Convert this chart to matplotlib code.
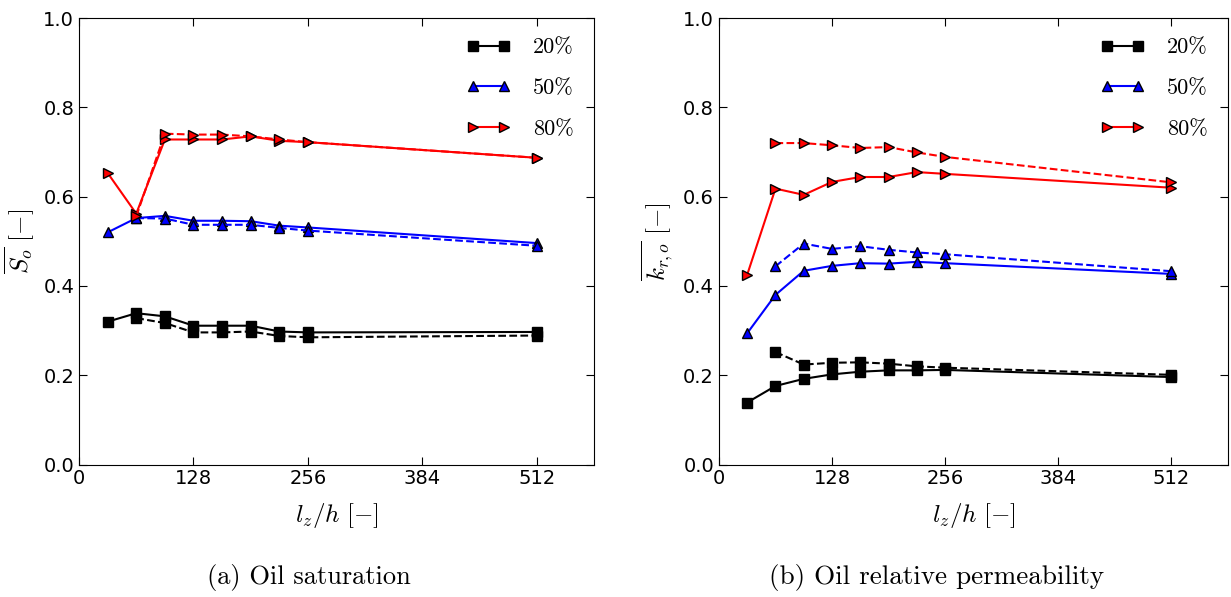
import numpy as np
import matplotlib
matplotlib.use("Agg")
import matplotlib.pyplot as plt

plt.rcParams['mathtext.fontset'] = 'cm'
plt.rcParams['xtick.direction'] = 'in'
plt.rcParams['ytick.direction'] = 'in'
plt.rcParams['xtick.top'] = True
plt.rcParams['ytick.right'] = True
plt.rcParams['xtick.major.size'] = 6
plt.rcParams['ytick.major.size'] = 6

# x positions (l_z / h)
x_solid = [32, 64, 96, 128, 160, 192, 224, 256, 512]
x_dash = [64, 96, 128, 160, 192, 224, 256, 512]

# (a) oil saturation
so_20 = [0.320, 0.339, 0.332, 0.311, 0.311, 0.311, 0.298, 0.296, 0.297]
so_20_d = [0.328, 0.317, 0.296, 0.296, 0.298, 0.288, 0.285, 0.289]
so_50 = [0.520, 0.552, 0.557, 0.546, 0.546, 0.545, 0.535, 0.531, 0.496]
so_50_d = [0.552, 0.551, 0.537, 0.537, 0.537, 0.530, 0.524, 0.490]
so_80 = [0.653, 0.562, 0.728, 0.728, 0.728, 0.735, 0.725, 0.722, 0.687]
so_80_d = [0.556, 0.741, 0.739, 0.739, 0.735, 0.728, 0.722, 0.687]

# (b) oil relative permeability
kr_20 = [0.139, 0.176, 0.192, 0.202, 0.208, 0.211, 0.211, 0.212, 0.196]
kr_20_d = [0.252, 0.224, 0.228, 0.229, 0.226, 0.220, 0.217, 0.201]
kr_50 = [0.294, 0.380, 0.434, 0.445, 0.451, 0.450, 0.454, 0.451, 0.427]
kr_50_d = [0.444, 0.495, 0.483, 0.489, 0.481, 0.475, 0.471, 0.433]
kr_80 = [0.425, 0.618, 0.604, 0.633, 0.644, 0.644, 0.655, 0.651, 0.620]
kr_80_d = [0.720, 0.720, 0.715, 0.709, 0.711, 0.699, 0.689, 0.632]

labels = ['20%', '50%', '80%']
colors = ['black', 'blue', 'red']
markers = ['s', '^', '>']

fig = plt.figure(figsize=(12.31, 5.97), dpi=100)
ax1 = fig.add_axes([0.0642, 0.2218, 0.4184, 0.748])
ax2 = fig.add_axes([0.584, 0.2218, 0.4135, 0.748])

def draw(ax, solids, dashes, ylab):
    for s, d, lab, c, m in zip(solids, dashes, labels, colors, markers):
        ax.plot(x_solid, s, color=c, marker=m, ms=7, mec='black', mfc=c,
                lw=1.5, label=lab)
        ax.plot(x_dash, d, color=c, marker=m, ms=7, mec='black', mfc=c,
                lw=1.5, ls='--')
    ax.set_xlim(0, 576)
    ax.set_ylim(0, 1.0)
    ax.set_xticks([0, 128, 256, 384, 512])
    ax.set_yticks([0.0, 0.2, 0.4, 0.6, 0.8, 1.0])
    ax.set_yticklabels(['0.0', '0.2', '0.4', '0.6', '0.8', '1.0'])
    ax.tick_params(labelsize=14)
    ax.set_xlabel(r'$l_z/h\ [-]$', fontsize=18, labelpad=9)
    ax.set_ylabel(ylab, fontsize=18, labelpad=5)
    ax.legend(loc='upper right', numpoints=2, frameon=False,
              labelspacing=0.95, handlelength=2.0, borderaxespad=0.5,
              handletextpad=1.0, prop={'family': 'cmr10', 'size': 16})

draw(ax1, [so_20, so_50, so_80], [so_20_d, so_50_d, so_80_d],
     r'$\overline{S_o}\ [-]$')
draw(ax2, [kr_20, kr_50, kr_80], [kr_20_d, kr_50_d, kr_80_d],
     r'$\overline{k_{r,o}}\ [-]$')

fig.text(0.251, 0.010, '(a) Oil saturation', ha='center', va='bottom',
         family='cmr10', fontsize=19)
fig.text(0.761, 0.010, '(b) Oil relative permeability', ha='center',
         va='bottom', family='cmr10', fontsize=19.5)

fig.savefig('out.png', dpi=100)
